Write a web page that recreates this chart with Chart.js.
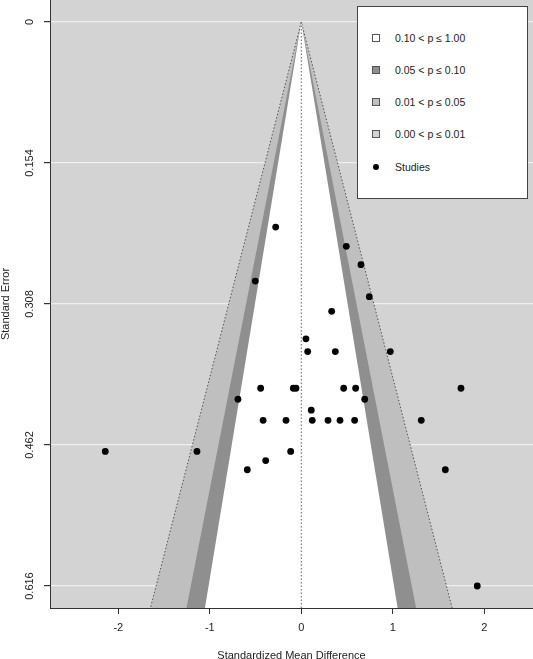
<!DOCTYPE html>
<html>
<head>
<meta charset="utf-8">
<script src="https://cdn.jsdelivr.net/npm/chart.js@4.4.1/dist/chart.umd.min.js"></script>
<style>
  body { margin: 0; background: #fff; }
  #wrap { position: relative; width: 533px; height: 659px; }
  #legend {
    position: absolute; left: 357px; top: 6px; width: 169px; height: 191px;
    border: 1px solid #444; background: #fff;
    font: 10.5px "Liberation Sans", Arial, sans-serif; color: #222;
  }
  .row { position: absolute; left: 0; height: 16px; display: flex; align-items: center; white-space: nowrap; }
  .sw { width: 8px; height: 8px; border: 1px solid #555; box-sizing: border-box; margin-left: 14px; margin-right: 15px; }
  .dot { width: 6px; height: 6px; border-radius: 50%; background: #000; margin-left: 15px; margin-right: 16px; }
</style>
</head>
<body>
<div id="wrap">
  <canvas id="funnel" width="533" height="659"></canvas>
  <div id="legend"></div>
</div>
<script>
// ----------------------------
// DATA
// ----------------------------
// study effects (SMD) and their standard errors
const smd = [-2.142, -1.140, -0.692, -0.590, -0.503, -0.444, -0.417, -0.389, -0.280, -0.167,
             -0.116, -0.087, -0.058, 0.051, 0.070, 0.109, 0.120, 0.292, 0.332, 0.372,
             0.423, 0.463, 0.492, 0.583, 0.594, 0.652, 0.693, 0.743, 0.973, 1.311,
             1.574, 1.745, 1.923];
const se = [0.469, 0.469, 0.412, 0.489, 0.283, 0.400, 0.435, 0.479, 0.224, 0.435,
            0.469, 0.400, 0.400, 0.346, 0.360, 0.424, 0.435, 0.435, 0.316, 0.360,
            0.435, 0.400, 0.245, 0.435, 0.400, 0.265, 0.412, 0.300, 0.360, 0.435,
            0.489, 0.400, 0.616];

const xTicks = [-2, -1, 0, 1, 2];
const yTicks = [0, 0.154, 0.308, 0.462, 0.616];
const yTickLabels = ["0", "0.154", "0.308", "0.462", "0.616"];

// contour limits (z for p = 0.01, 0.05, 0.10) and band colours
const contourZ = [2.576, 1.960, 1.645];
const contourColors = ["#bfbfbf", "#8f8f8f", "#ffffff"];
const bgGray = "#d3d3d3";
const seEnd = 0.72;   // funnel drawn past the bottom of the axis, clipped

const legendLabels = ["0.10 < p \u2264 1.00", "0.05 < p \u2264 0.10", "0.01 < p \u2264 0.05", "0.00 < p \u2264 0.01", "Studies"];
const legendColors = ["#ffffff", "#8f8f8f", "#bfbfbf", "#d3d3d3", null];

// ----------------------------
// DATASETS
// ----------------------------
const font = { family: "'Liberation Sans', Arial, sans-serif", size: 11 };
const ink = "#222";

const funnelSets = contourZ.map((z, i) => ({
  data: [{ x: -z * seEnd, y: seEnd }, { x: 0, y: 0 }, { x: z * seEnd, y: seEnd }],
  showLine: true,
  pointRadius: 0,
  fill: "shape",
  backgroundColor: contourColors[i],
  borderColor: i === 0 ? "#333" : contourColors[i],
  borderWidth: i === 0 ? 0.8 : 0,
  borderDash: i === 0 ? [1.5, 2] : [],
  order: 10 - i
}));

const centreLine = {
  data: [{ x: 0, y: 0 }, { x: 0, y: seEnd }],
  showLine: true,
  pointRadius: 0,
  borderColor: "#333",
  borderWidth: 0.8,
  borderDash: [1.5, 2],
  order: 2
};

const studies = {
  data: smd.map((v, i) => ({ x: v, y: se[i] })),
  pointRadius: 3.4,
  pointBackgroundColor: "#000",
  pointBorderWidth: 0,
  order: 1
};

// grey plot background
const chartBg = {
  id: "chartBg",
  beforeDraw(c) {
    const { ctx, chartArea: a } = c;
    ctx.save();
    ctx.fillStyle = bgGray;
    ctx.fillRect(a.left, a.top, a.right - a.left, a.bottom - a.top);
    ctx.restore();
  }
};

new Chart(document.getElementById("funnel"), {
  type: "scatter",
  data: { datasets: [...funnelSets, centreLine, studies] },
  plugins: [chartBg],
  options: {
    responsive: false,
    animation: false,
    layout: { padding: 0, autoPadding: false },
    plugins: { legend: { display: false }, tooltip: { enabled: false } },
    scales: {
      x: {
        type: "linear",
        min: -2.746,
        max: 2.532,
        afterBuildTicks: s => { s.ticks = xTicks.map(v => ({ value: v })); },
        afterFit: s => { s.height = 51; s.paddingLeft = 0; s.paddingRight = 0; },
        ticks: { font, color: ink, padding: 7, maxRotation: 0, autoSkip: false, callback: v => String(v) },
        grid: { drawOnChartArea: false, tickLength: 6, tickColor: "#333" },
        border: { color: "#333", width: 1 },
        title: { display: true, text: "Standardized Mean Difference", font, color: ink, padding: { top: 0, bottom: -4 } }
      },
      y: {
        type: "linear",
        reverse: true,
        min: -0.024,
        max: 0.640,
        afterBuildTicks: s => { s.ticks = yTicks.map(v => ({ value: v })); },
        afterFit: s => { s.width = 50; s.paddingTop = 0; s.paddingBottom = 0; },
        ticks: { font, color: ink, padding: 0, minRotation: 90, maxRotation: 90, crossAlign: "center", autoSkip: false,
                 callback: (v, i) => yTickLabels[i] },
        grid: { color: "#eeeeee", lineWidth: 1.2, tickLength: 6, tickColor: "#333" },
        border: { color: "#333", width: 1 },
        title: { display: true, text: "Standard Error", font, color: ink, padding: { top: -1, bottom: 0 } }
      }
    }
  }
});

// ----------------------------
// LEGEND (inside plot, top right)
// ----------------------------
const rowCentres = [31.3, 63, 95, 127.3, 159.7];
const legend = document.getElementById("legend");
legendLabels.forEach((txt, i) => {
  const row = document.createElement("div");
  row.className = "row";
  row.style.top = (rowCentres[i] - 8) + "px";
  const mark = document.createElement("span");
  if (legendColors[i]) {
    mark.className = "sw";
    mark.style.background = legendColors[i];
  } else {
    mark.className = "dot";
  }
  row.appendChild(mark);
  row.appendChild(document.createTextNode(txt));
  legend.appendChild(row);
});
</script>
</body>
</html>
